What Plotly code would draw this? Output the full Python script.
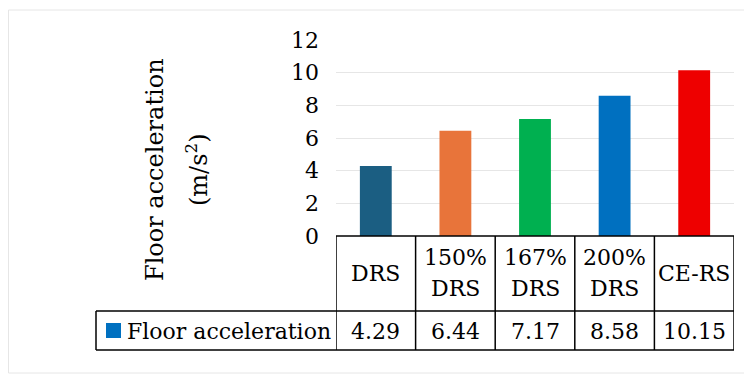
import plotly.graph_objects as go

categories = ["DRS", "150%<br>DRS", "167%<br>DRS", "200%<br>DRS", "CE-RS"]
values = [4.29, 6.44, 7.17, 8.58, 10.15]
value_labels = ["4.29", "6.44", "7.17", "8.58", "10.15"]
colors = ["#1B5E82", "#E8743A", "#00B050", "#0070C0", "#EE0000"]
series_name = "Floor acceleration"
y_title_lines = ["Floor acceleration", "(m/s<sup>2</sup>)"]
y_ticks = [0, 2, 4, 6, 8, 10, 12]

W, H = 752, 374
OFF = 8  # page body margin
FONT = "DejaVu Serif"

def px(x):
    return (x - OFF) / W

def py(y):
    return 1 - (y - OFF) / H

x_idx = list(range(len(categories)))

fig = go.Figure()
fig.add_trace(go.Bar(x=x_idx, y=values, marker_color=colors, width=0.4,
                     marker_line_width=0, name=series_name, showlegend=False))

shapes = []
line = dict(color="black", width=1.5)
shapes.append(dict(type="rect", xref="paper", yref="paper", x0=px(8.5), x1=px(747), y0=py(373), y1=py(10),
                   line=dict(color="#E6E6E6", width=1)))
for i in range(len(categories) + 1):
    xv = i - 0.5
    shapes.append(dict(type="line", xref="x", yref="paper", x0=xv, x1=xv, y0=py(350), y1=py(236), line=line))
shapes.append(dict(type="line", xref="x", yref="paper", x0=-0.5, x1=4.5, y0=py(236), y1=py(236), line=line))
shapes.append(dict(type="line", xref="paper", yref="paper", x0=px(96), x1=px(734), y0=py(311), y1=py(311), line=line))
shapes.append(dict(type="line", xref="paper", yref="paper", x0=px(96), x1=px(734), y0=py(350), y1=py(350), line=line))
shapes.append(dict(type="line", xref="paper", yref="paper", x0=px(96), x1=px(96), y0=py(350), y1=py(311), line=line))
shapes.append(dict(type="rect", xref="paper", yref="paper", x0=px(106), x1=px(121), y0=py(338), y1=py(323),
                   fillcolor="#0070C0", line=dict(width=0)))

tfont = dict(family=FONT, size=22, color="black")
annotations = []
for i, (c, v) in enumerate(zip(categories, value_labels)):
    parts = c.split("<br>")
    if len(parts) == 1:
        ys = [273]
    else:
        ys = [257, 288]
    for part, yy in zip(parts, ys):
        annotations.append(dict(x=i, y=py(yy), xref="x", yref="paper", text=part, showarrow=False,
                                font=tfont, yanchor="middle"))
    annotations.append(dict(x=i, y=py(331), xref="x", yref="paper", text=v, showarrow=False,
                            font=tfont, yanchor="middle"))
annotations.append(dict(x=px(125), y=py(331), xref="paper", yref="paper", text=series_name, showarrow=False,
                        xanchor="left", yanchor="middle", font=tfont))
for t, xx in zip(y_title_lines, [155, 197]):
    annotations.append(dict(x=px(xx), y=py(170), xref="paper", yref="paper", text=t, showarrow=False,
                            textangle=-90, xanchor="center", yanchor="middle",
                            font=dict(family=FONT, size=24, color="black")))

fig.update_layout(
    width=W, height=H, margin=dict(l=0, r=0, t=0, b=0, autoexpand=False),
    paper_bgcolor="white", plot_bgcolor="white",
    shapes=shapes, annotations=annotations,
    xaxis=dict(domain=[px(336), px(734)], range=[-0.5, 4.5], showticklabels=False, showgrid=False,
               zeroline=False, showline=False, fixedrange=True, automargin=False),
    yaxis=dict(domain=[py(236), py(40)], range=[0, 12], tickvals=y_ticks, showgrid=True,
               gridcolor="#E6E6E6", gridwidth=1, zeroline=False, showline=False, automargin=False,
               tickfont=dict(family=FONT, size=22, color="black"), ticklabelstandoff=16),
    bargap=0.6,
)
fig.write_html("out.html")
